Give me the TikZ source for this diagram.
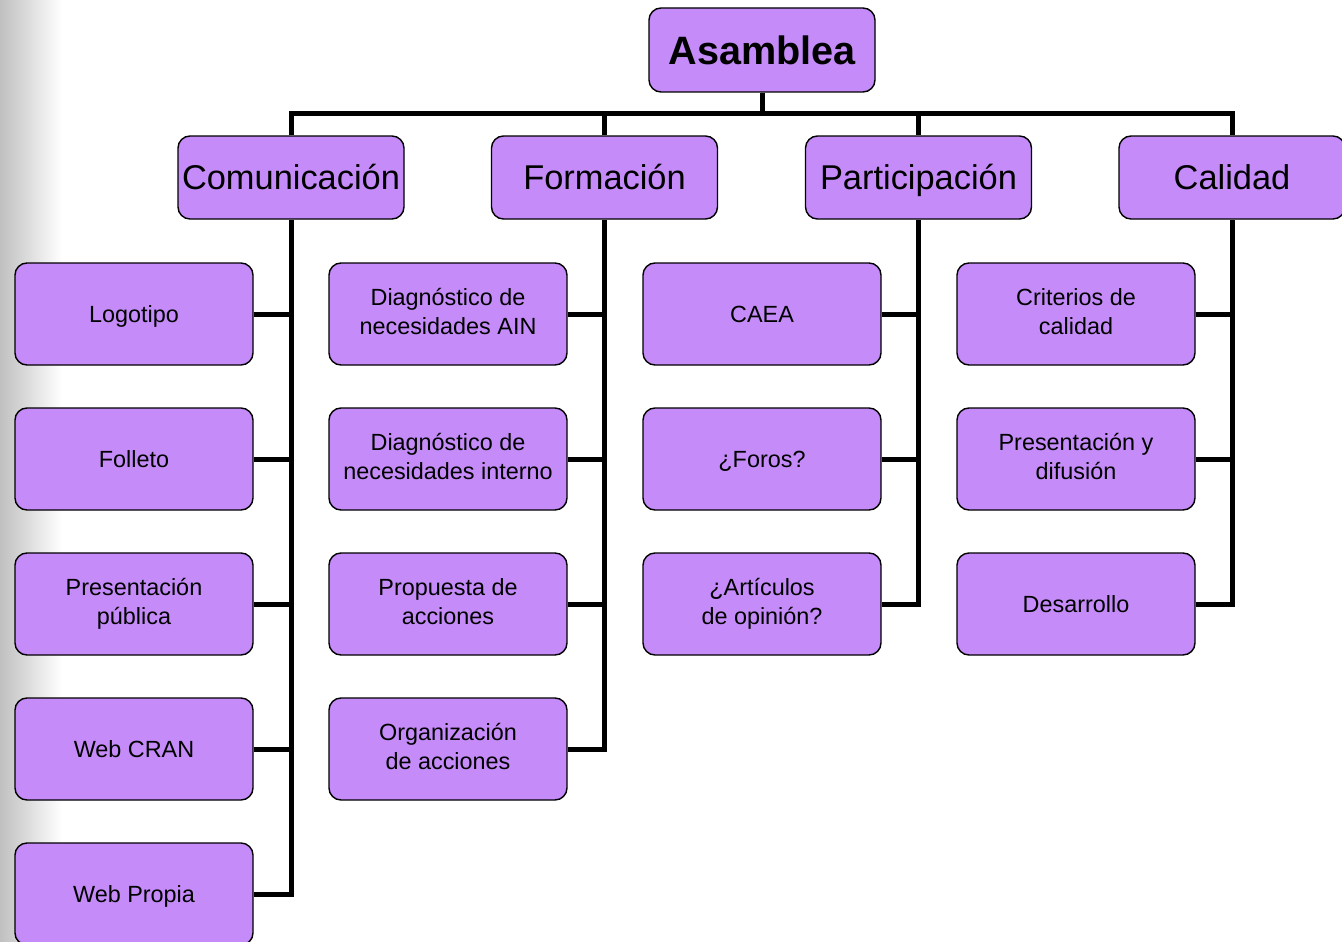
\documentclass[tikz,border=0pt]{standalone}
\usepackage{fontspec}
\setmainfont{Liberation Sans}
\usetikzlibrary{calc}

% strut that centres the capitals in each box
\newcommand{\capstrut}{\rule[-0.25em]{0pt}{1.216em}}

\begin{document}
\begin{tikzpicture}[x=1pt,y=-1pt]
    % Define custom colors
    \definecolor{boxfill}{RGB}{197,139,249}
    \definecolor{sidegray}{RGB}{192,192,192}

    % Styles
    \tikzset{
        box/.style={draw=black, line width=1.4pt, fill=boxfill, rounded corners=12pt,
            inner sep=0pt, align=center,
            execute at begin node=\capstrut, execute at end node=\capstrut},
        topbox/.style={box, minimum width=226pt, minimum height=84pt,
            font=\fontsize{39.6}{44}\selectfont\bfseries},
        areabox/.style={box, minimum width=226pt, minimum height=83pt,
            font=\fontsize{34.4}{40}\selectfont},
        taskbox/.style={box, minimum width=238pt, minimum height=102pt,
            font=\fontsize{23.4}{29}\selectfont},
        wire/.style={line width=5pt, line join=miter}
    }

    % Parameters
    \def\busy{113}     % height of the horizontal bus

    % Page and side shading
    \useasboundingbox (0,0) rectangle (1342,942);
    \clip (0,0) rectangle (1342,942);
    \shade[left color=sidegray, right color=white] (0,0) rectangle (62,942);

    % Top node
    \node[topbox] (asam) at (762,50) {Asamblea};

    % Areas
    \node[areabox] (com)  at (291,177.5)  {Comunicación};
    \node[areabox] (form) at (604.5,177.5) {Formación};
    \node[areabox] (part) at (918.5,177.5) {Participación};
    \node[areabox] (cal)  at (1232,177.5) {Calidad};

    % Tasks - Comunicacion
    \node[taskbox] (logo) at (134,314) {Logotipo};
    \node[taskbox] (foll) at (134,459) {Folleto};
    \node[taskbox] (pres) at (134,604) {Presentación\\pública};
    \node[taskbox] (wcran) at (134,749) {Web CRAN};
    \node[taskbox] (wprop) at (134,894) {Web Propia};

    % Tasks - Formacion
    \node[taskbox] (dain) at (448,314) {Diagnóstico de\\necesidades AIN};
    \node[taskbox] (dint) at (448,459) {Diagnóstico de\\necesidades interno};
    \node[taskbox] (prop) at (448,604) {Propuesta de\\acciones};
    \node[taskbox] (orga) at (448,749) {Organización\\de acciones};

    % Tasks - Participacion
    \node[taskbox] (caea) at (762,314) {CAEA};
    \node[taskbox] (foro) at (762,459) {¿Foros?};
    \node[taskbox] (arti) at (762,604) {¿Artículos\\de opinión?};

    % Tasks - Calidad
    \node[taskbox] (crit) at (1076,314) {Criterios de\\calidad};
    \node[taskbox] (difu) at (1076,459) {Presentación y\\difusión};
    \node[taskbox] (desa) at (1076,604) {Desarrollo};

    % Bus from the top node to the areas
    \coordinate (bus) at (0,\busy);
    \draw[wire] (asam.south) -- (asam.south |- bus);
    \draw[wire] (com.north) |- (cal.north |- bus) -- (cal.north);
    \foreach \a in {form,part} {
        \draw[wire] (\a.north) -- (\a.north |- bus);
    }

    % Spines down each area (last task closes it)
    \draw[wire] (wprop.east) -| (com.south);
    \draw[wire] (orga.east) -| (form.south);
    \draw[wire] (arti.east) -| (part.south);
    \draw[wire] (desa.east) -| (cal.south);

    % Stubs to the other tasks
    \foreach \t/\a in {logo/com,foll/com,pres/com,wcran/com,
                       dain/form,dint/form,prop/form,
                       caea/part,foro/part,
                       crit/cal,difu/cal} {
        \draw[wire] (\t.east) -- (\t.east -| \a.south);
    }

\end{tikzpicture}
\end{document}
